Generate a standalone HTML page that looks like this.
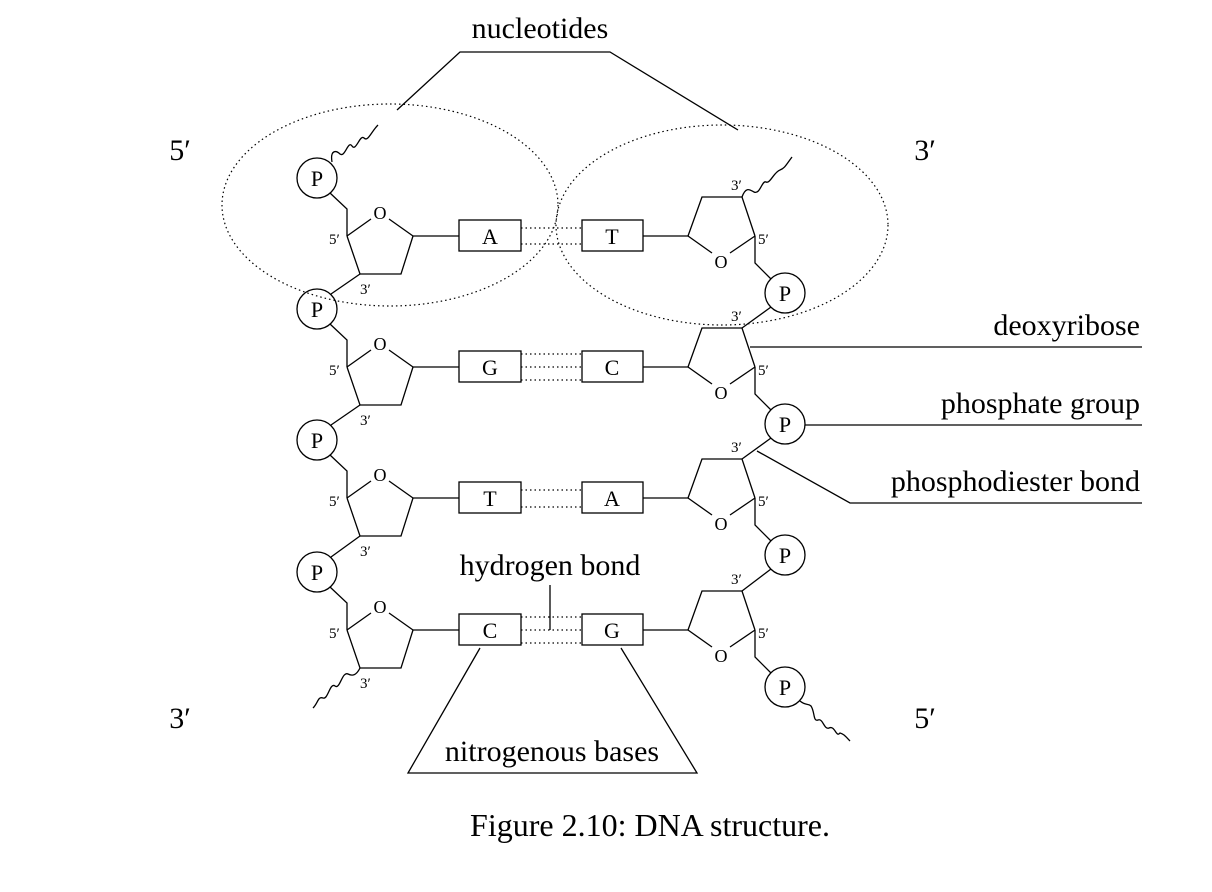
<!DOCTYPE html>
<html><head><meta charset="utf-8"><style>
html,body{margin:0;padding:0;background:#fff;}
svg{display:block;}
text{font-family:"Liberation Serif",serif;fill:#000;}
</style></head><body>
<svg width="1212" height="892" viewBox="0 0 1212 892" xmlns="http://www.w3.org/2000/svg">
<defs>
<g id="L" fill="none" stroke="#000" stroke-width="1.3">
  <circle cx="317" cy="178" r="20"/>
  <polyline points="330,193 347,209 347,236"/>
  <line x1="347" y1="236" x2="371" y2="219"/>
  <line x1="389" y1="219" x2="413" y2="236"/>
  <polyline points="413,236 401,274 360,274 347,236"/>
  <line x1="413" y1="236" x2="459" y2="236"/>
  <rect x="459" y="220" width="62" height="31"/>
  <rect x="582" y="220" width="61" height="31"/>
  <line x1="643" y1="236" x2="688" y2="236"/>
  <polyline points="688,236 702,197 742,197 755,236"/>
  <line x1="688" y1="236" x2="712" y2="253"/>
  <line x1="730" y1="253" x2="755" y2="236"/>
  <polyline points="755,236 755,263 771,279"/>
  <circle cx="785" cy="293" r="20"/>
</g>
<g id="LT" font-size="15">
  <text x="317" y="186" font-size="22" text-anchor="middle">P</text>
  <text x="380" y="219" font-size="18" text-anchor="middle">O</text>
  <text x="329" y="244">5′</text>
  <text x="360" y="294">3′</text>
  <text x="731" y="190">3′</text>
  <text x="758" y="244">5′</text>
  <text x="721" y="268" font-size="18" text-anchor="middle">O</text>
  <text x="785" y="301" font-size="22" text-anchor="middle">P</text>
</g>
</defs>
<g>
  <use href="#L"/><use href="#LT"/>
  <text x="490" y="244" font-size="22" text-anchor="middle">A</text>
  <text x="612" y="244" font-size="22" text-anchor="middle">T</text>
</g>
<g transform="translate(0,131)">
  <use href="#L"/><use href="#LT"/>
  <text x="490" y="244" font-size="22" text-anchor="middle">G</text>
  <text x="612" y="244" font-size="22" text-anchor="middle">C</text>
</g>
<g transform="translate(0,262)">
  <use href="#L"/><use href="#LT"/>
  <text x="490" y="244" font-size="22" text-anchor="middle">T</text>
  <text x="612" y="244" font-size="22" text-anchor="middle">A</text>
</g>
<g transform="translate(0,394)">
  <use href="#L"/><use href="#LT"/>
  <text x="490" y="244" font-size="22" text-anchor="middle">C</text>
  <text x="612" y="244" font-size="22" text-anchor="middle">G</text>
</g>
<g fill="none" stroke="#000" stroke-width="1.3">
  <line x1="360" y1="274" x2="331" y2="294"/>
  <line x1="360" y1="405" x2="331" y2="425"/>
  <line x1="360" y1="536" x2="331" y2="557"/>
  <line x1="771" y1="307" x2="742" y2="328"/>
  <line x1="771" y1="438" x2="742" y2="459"/>
  <line x1="771" y1="569" x2="742" y2="591"/>
  <path d="M332,162 C330,150 336,150 340,154 C345,158 348,140 352,146 C356,152 360,134 364,138 C368,142 371,132 378,125"/>
  <path d="M742,197 C746,186 750,190 754,192 C760,195 762,180 766,182 C770,184 774,172 780,170 C785,168 786,165 792,157"/>
  <path d="M360,668 C356,676 352,676 348,674 C342,671 340,690 335,686 C330,682 328,700 323,698 C318,696 318,703 313,708"/>
  <path d="M800,701 C806,706 808,703 811,706 C815,712 813,722 818,720 C823,718 824,730 829,728 C835,725 836,738 840,733 C844,734 846,737 850,741"/>
  <polyline points="397,110 460,52 610,52 738,130"/>
  <line x1="750" y1="347" x2="1142" y2="347"/>
  <line x1="805" y1="425" x2="1142" y2="425"/>
  <polyline points="757,451 850,503 1142,503"/>
  <line x1="550" y1="585" x2="550" y2="630"/>
  <polyline points="480,648 408,773 697,773 621,648"/>
</g>
<g stroke="#000" stroke-width="1.2" stroke-dasharray="1.5,3" fill="none">
  <ellipse cx="390" cy="205" rx="168" ry="101"/>
  <ellipse cx="722" cy="225" rx="166" ry="100"/>
  <line x1="521" y1="228" x2="582" y2="228"/><line x1="521" y1="244" x2="582" y2="244"/>
  <line x1="521" y1="354" x2="582" y2="354"/><line x1="521" y1="367" x2="582" y2="367"/><line x1="521" y1="380" x2="582" y2="380"/>
  <line x1="521" y1="490" x2="582" y2="490"/><line x1="521" y1="507" x2="582" y2="507"/>
  <line x1="521" y1="617" x2="582" y2="617"/><line x1="521" y1="630" x2="582" y2="630"/><line x1="521" y1="643" x2="582" y2="643"/>
</g>
<g font-size="30">
  <text x="540" y="38" text-anchor="middle">nucleotides</text>
  <text x="1140" y="335" text-anchor="end">deoxyribose</text>
  <text x="1140" y="413" text-anchor="end">phosphate group</text>
  <text x="1140" y="491" text-anchor="end">phosphodiester bond</text>
  <text x="550" y="575" text-anchor="middle">hydrogen bond</text>
  <text x="552" y="761" text-anchor="middle">nitrogenous bases</text>
  <text x="180" y="160" text-anchor="middle">5′</text>
  <text x="925" y="160" text-anchor="middle">3′</text>
  <text x="180" y="728" text-anchor="middle">3′</text>
  <text x="925" y="728" text-anchor="middle">5′</text>
  <text x="650" y="836" text-anchor="middle" font-size="32">Figure 2.10: DNA structure.</text>
</g>
</svg>
</body></html>
